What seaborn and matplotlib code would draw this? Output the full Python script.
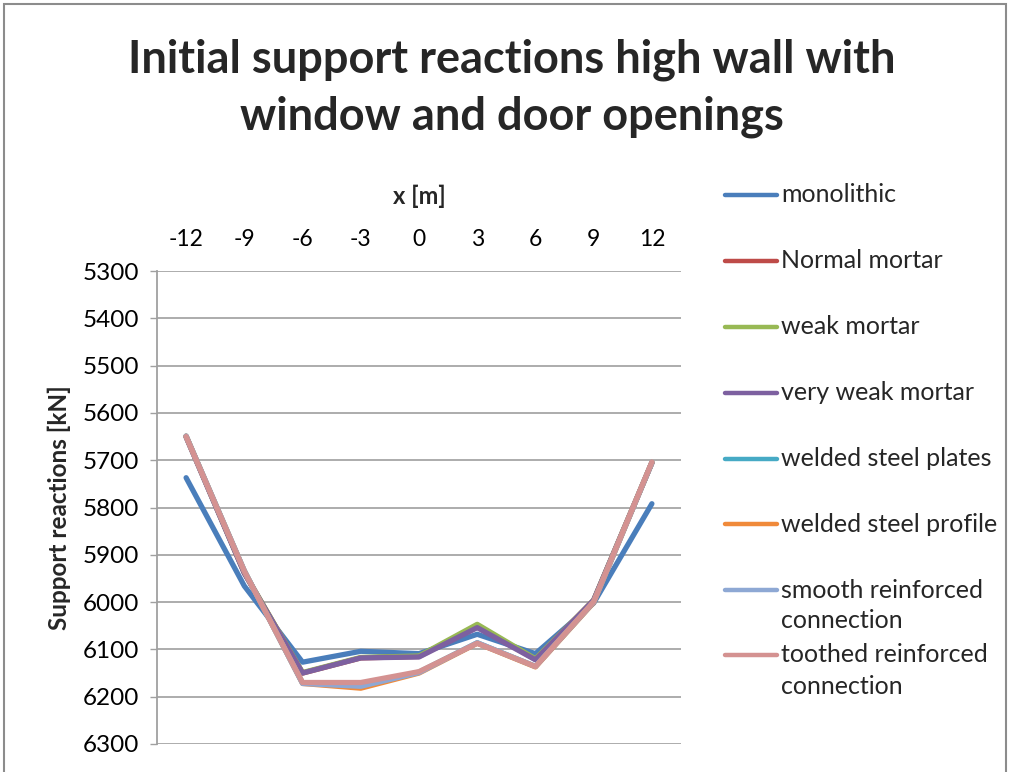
import matplotlib
matplotlib.use("Agg")
import matplotlib.pyplot as plt
from matplotlib.lines import Line2D
from matplotlib.patches import Rectangle
import seaborn as sns
import pandas as pd

# Support reactions [kN] along the wall, per connection type
x_positions = [-12, -9, -6, -3, 0, 3, 6, 9, 12]
monolithic = [5737, 5966, 6127, 6104, 6109, 6068, 6109, 6002, 5792]
normal_mortar = [5650, 5938, 6150, 6118, 6115, 6051, 6121, 5996, 5705]
weak_mortar = [5650, 5938, 6149, 6117, 6114, 6047, 6120, 5996, 5705]
very_weak_mortar = [5651, 5939, 6150, 6118, 6116, 6054, 6122, 5996, 5706]
welded_steel_plates = [5649, 5934, 6171, 6176, 6148, 6086, 6136, 6000, 5705]
welded_steel_profile = [5649, 5934, 6172, 6182, 6150, 6087, 6137, 6001, 5705]
smooth_reinforced = [5649, 5934, 6172, 6178, 6149, 6086, 6136, 6000, 5705]
toothed_reinforced = [5650, 5935, 6170, 6170, 6147, 6087, 6136, 5999, 5704]

series_names = [
    "monolithic",
    "Normal mortar",
    "weak mortar",
    "very weak mortar",
    "welded steel plates",
    "welded steel profile",
    "smooth reinforced\nconnection",
    "toothed reinforced\nconnection",
]
series_values = [
    monolithic, normal_mortar, weak_mortar, very_weak_mortar,
    welded_steel_plates, welded_steel_profile, smooth_reinforced,
    toothed_reinforced,
]
colors = ["#4A7EBB", "#BE4B48", "#98B954", "#7D60A0",
          "#46AAC5", "#F08A3A", "#8EA8D4", "#D49291"]

y_ticks = list(range(5300, 6301, 100))

rows = []
for name, vals in zip(series_names, series_values):
    for xv, yv in zip(x_positions, vals):
        rows.append({"x": xv, "reaction": yv, "series": name})
df = pd.DataFrame(rows)

sns.set_theme(style="white")
plt.rcParams["font.family"] = ["Lato", "DejaVu Sans"]

W, H = 1009, 772
fig = plt.figure(figsize=(W / 100, H / 100), dpi=100)
ax = fig.add_axes([157 / W, 1 - 744 / H, 524 / W, 473 / H])

sns.lineplot(data=df, x="x", y="reaction", hue="series",
             hue_order=series_names, palette=colors, linewidth=3.8,
             sort=False, legend=False, ax=ax, solid_capstyle="round")

ax.set_xlim(-13.5, 13.5)
ax.set_ylim(6300, 5300)
ax.set_yticks(y_ticks)
ax.set_xticks(x_positions)
ax.set_xticklabels([str(v) for v in x_positions])
ax.xaxis.tick_top()
ax.xaxis.set_label_position("top")
ax.tick_params(axis="x", length=0, pad=15, labelsize=16.5, colors="#000000")
ax.tick_params(axis="y", length=5, width=1, pad=8, labelsize=17.5, left=True,
               colors="#a0a0a0", labelcolor="#000000")
ax.grid(axis="y", color="#a6a6a6", linewidth=1.3)
ax.set_axisbelow(True)
for side in ["top", "right", "bottom"]:
    ax.spines[side].set_visible(False)
ax.spines["left"].set_color("#a0a0a0")
ax.spines["left"].set_linewidth(1.3)

ax.set_xlabel("x [m]", fontsize=17, fontweight="bold", labelpad=18)
ax.set_ylabel("Support reactions [kN]", fontsize=17.5, fontweight="bold",
              labelpad=8)

# Title
fig.text(512 / W, 1 - 60 / H, "Initial support reactions high wall with",
         ha="center", va="center", fontsize=32.5, fontweight="bold")
fig.text(512 / W, 1 - 117 / H, "window and door openings",
         ha="center", va="center", fontsize=32.5, fontweight="bold")

# Legend on the right, handle aligned with the first text line
legend_y = [195, 261, 327, 393, 459, 524, 590, 655]
for line, name, yy in zip(ax.get_lines(), series_names, legend_y):
    fy = 1 - yy / H
    fig.add_artist(Line2D([725 / W, 777 / W], [fy, fy],
                          color=line.get_color(), linewidth=3.2,
                          solid_capstyle="round"))
    fig.text(781 / W, fy, name.split("\n")[0], ha="left", va="center",
             fontsize=18)
    if "\n" in name:
        fig.text(781 / W, 1 - (yy + 31) / H, name.split("\n")[1],
                 ha="left", va="center", fontsize=18)

# Chart frame
fig.add_artist(Rectangle((4 / W, -0.05), 1002 / W, 1.05 - 4 / H,
                         transform=fig.transFigure, fill=False,
                         edgecolor="#8c8c8c", linewidth=1.5))

fig.savefig("out.png", dpi=100)
